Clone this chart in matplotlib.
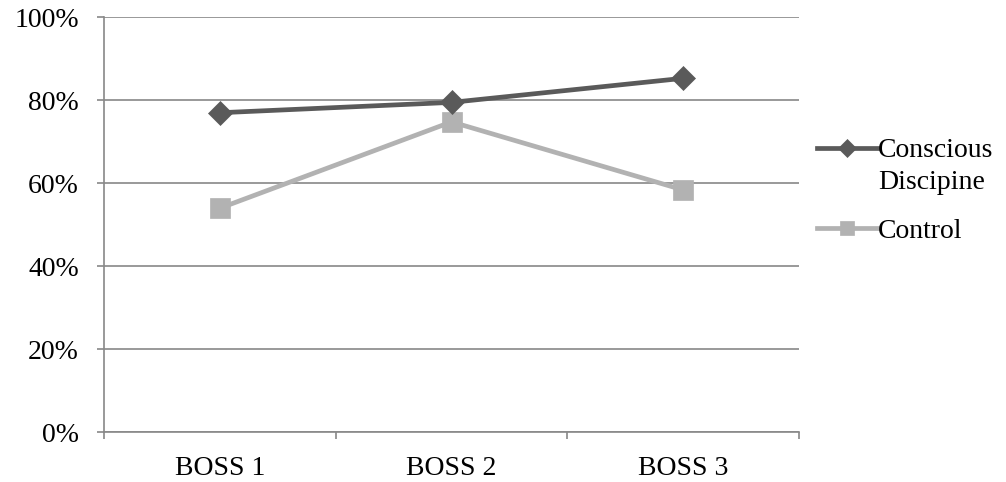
import matplotlib
matplotlib.use("Agg")
import matplotlib.pyplot as plt
from matplotlib.ticker import FuncFormatter, FixedLocator, NullFormatter

categories = ["BOSS 1", "BOSS 2", "BOSS 3"]
conscious = [77.0, 79.5, 85.3]
control = [54.0, 74.8, 58.4]
series_names = ["Conscious\nDiscipine", "Control"]
yticks = [0, 20, 40, 60, 80, 100]

plt.rcParams['font.family'] = ['Liberation Serif', 'DejaVu Serif']

W, H = 1006, 482
fig = plt.figure(figsize=(W/100, H/100), dpi=100)
ax = fig.add_axes([104/W, 1 - 432.3/H, (799-104)/W, (432.3-17.3)/H])

x = [i + 0.5 for i in range(len(categories))]
first_lines = [n.split("\n")[0] for n in series_names]
ax.plot(x, conscious, color='#5a5a5a', lw=3.4, marker='D', ms=12,
        mec='#5a5a5a', mfc='#5a5a5a', mew=0.5, label=first_lines[0], zorder=4)
ax.plot(x, control, color='#b2b2b2', lw=3.4, marker='s', ms=14,
        mec='#b2b2b2', mfc='#b2b2b2', mew=0.5, label=first_lines[1], zorder=3)

ax.set_xlim(0, len(categories))
ax.set_ylim(0, 100)
ax.set_yticks(yticks)
ax.yaxis.set_major_formatter(FuncFormatter(lambda v, p: f"{int(v)}%"))
ax.grid(axis='y', color='#888888', lw=1.2)
ax.set_axisbelow(True)

ax.xaxis.set_major_locator(FixedLocator([0, 1, 2, 3]))
ax.xaxis.set_major_formatter(NullFormatter())
ax.xaxis.set_minor_locator(FixedLocator(x))
ax.set_xticklabels(categories, minor=True)
ax.tick_params(axis='x', which='minor', length=0, labelsize=20, pad=17)
ax.tick_params(axis='x', which='major', length=5, color='#888888', width=1.2)
ax.tick_params(axis='y', length=5, color='#888888', width=1.2, labelsize=20, pad=13)

for s in ['top', 'right']:
    ax.spines[s].set_visible(False)
for s in ['left', 'bottom']:
    ax.spines[s].set_color('#888888')
    ax.spines[s].set_linewidth(1.2)

leg = fig.legend(loc='upper left', bbox_to_anchor=(816.5/W, 1 - 138/H),
                 frameon=False, fontsize=20, handlelength=2.16, handletextpad=0.05,
                 labelspacing=1.98, borderpad=0, borderaxespad=0, markerscale=0.75)

# second line of the wrapped legend label, placed under its first line
fig.canvas.draw()
t0 = leg.get_texts()[0]
bb = t0.get_window_extent()
for k, line in enumerate(series_names[0].split("\n")[1:], start=1):
    fig.text(bb.x0 / W, (bb.y0 - 31.5 * k) / H, line, fontsize=20,
             ha='left', va='bottom')

fig.savefig("out.png", dpi=100)
